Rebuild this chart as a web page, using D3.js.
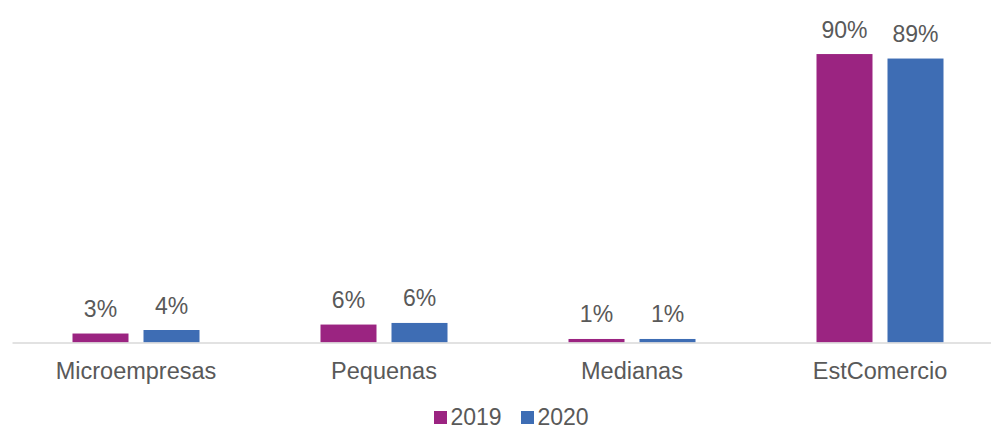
<!DOCTYPE html>
<html><head><meta charset="utf-8">
<script src="https://cdn.jsdelivr.net/npm/d3@7"></script>
<style>body{margin:0;background:#fff}svg{display:block}</style>
</head><body>
<svg id="c" width="991" height="430"></svg>
<script>
const categories = ["Microempresas", "Pequenas", "Medianas", "EstComercio"];
const seriesNames = ["2019", "2020"];
const values2019 = [2.8, 5.6, 1.1, 90.0];
const values2020 = [3.9, 6.1, 1.1, 88.6];
const colors = ["#9B2481", "#3E6DB4"];

const svg = d3.select("#c");
const baseY = 342.5;
const x = d3.scaleBand().domain(categories).range([12, 1004]).paddingInner(0).paddingOuter(0);
const x1 = d3.scaleBand().domain(seriesNames).range([60.5, 187.5]).paddingInner(0.2113).paddingOuter(0);
const y = d3.scaleLinear().domain([0, 100]).range([baseY, 22]);

const data = categories.map((c, i) => ({cat: c, vals: [
  {s: "2019", v: values2019[i]}, {s: "2020", v: values2020[i]}]}));

const g = svg.selectAll("g.grp").data(data).enter().append("g")
  .attr("transform", d => `translate(${x(d.cat)},0)`);
g.selectAll("rect").data(d => d.vals).enter().append("rect")
  .attr("x", d => x1(d.s)).attr("width", x1.bandwidth())
  .attr("y", d => y(d.v)).attr("height", d => baseY - y(d.v))
  .attr("fill", (d, i) => colors[i]);
g.selectAll("text.val").data(d => d.vals).enter().append("text")
  .attr("class", "val")
  .attr("x", d => x1(d.s) + x1.bandwidth() / 2)
  .attr("y", d => y(d.v) - 16.5)
  .attr("text-anchor", "middle")
  .attr("font-family", "Liberation Sans, Arial, sans-serif")
  .attr("font-size", 23).attr("fill", "#595959")
  .text(d => Math.round(d.v) + "%");

const axis = svg.append("g").attr("transform", `translate(0,${baseY})`)
  .call(d3.axisBottom(x).tickSize(0).tickSizeOuter(0));
axis.select(".domain").attr("stroke", "#d9d9d9").attr("stroke-width", 1.5);
axis.selectAll(".tick text").attr("y", 36.5).attr("dy", 0)
  .attr("font-family", "Liberation Sans, Arial, sans-serif")
  .attr("font-size", 23.5).attr("fill", "#595959");

// legend
const legX = [434, 521];
const leg = svg.selectAll("g.leg").data(seriesNames).enter().append("g")
  .attr("transform", (d, i) => `translate(${legX[i]},0)`);
leg.append("rect").attr("x", 0).attr("y", 411).attr("width", 13).attr("height", 13)
  .attr("fill", (d, i) => colors[i]);
leg.append("text").attr("x", 16.5).attr("y", 424.5)
  .attr("font-family", "Liberation Sans, Arial, sans-serif")
  .attr("font-size", 23).attr("fill", "#595959").text(d => d);
</script>
</body></html>
